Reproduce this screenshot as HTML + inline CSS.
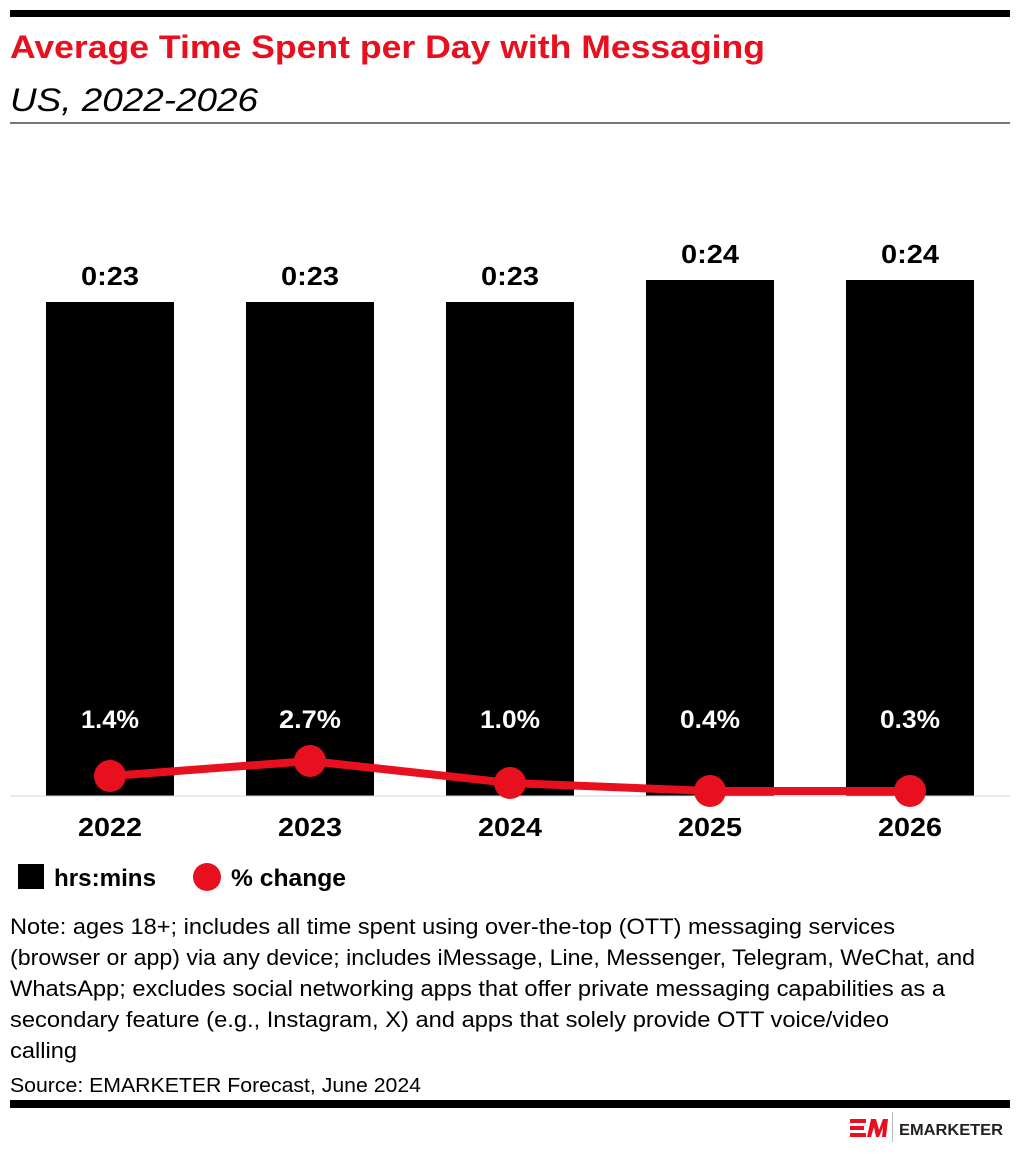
<!DOCTYPE html>
<html><head><style>
body{margin:0;background:#fff;width:1020px;height:1150px;overflow:hidden;font-family:"Liberation Sans",sans-serif;}
</style></head><body>
<svg width="1020" height="1150" xmlns="http://www.w3.org/2000/svg" font-family="Liberation Sans, sans-serif">
<rect x="10" y="10" width="1000" height="7" fill="#000"/>
<text x="10" y="58" font-size="32" font-weight="bold" fill="#e8101e" textLength="755" lengthAdjust="spacingAndGlyphs">Average Time Spent per Day with Messaging</text>
<text x="10" y="111" font-size="32" font-style="italic" fill="#000" textLength="248" lengthAdjust="spacingAndGlyphs">US, 2022-2026</text>
<rect x="10" y="122" width="1000" height="2" fill="#777"/>
<g fill="#000">
<rect x="46" y="302" width="128" height="494"/>
<rect x="246" y="302" width="128" height="494"/>
<rect x="446" y="302" width="128" height="494"/>
<rect x="646" y="280" width="128" height="516"/>
<rect x="846" y="280" width="128" height="516"/>
</g>
<line x1="10" y1="796" x2="1010" y2="796" stroke="#ccd6e0" stroke-width="1"/>
<g font-size="26" font-weight="bold" text-anchor="middle" fill="#000">
<text x="110" y="285" textLength="58" lengthAdjust="spacingAndGlyphs">0:23</text><text x="310" y="285" textLength="58" lengthAdjust="spacingAndGlyphs">0:23</text><text x="510" y="285" textLength="58" lengthAdjust="spacingAndGlyphs">0:23</text>
<text x="710" y="263" textLength="58" lengthAdjust="spacingAndGlyphs">0:24</text><text x="910" y="263" textLength="58" lengthAdjust="spacingAndGlyphs">0:24</text>
<text x="110" y="836" textLength="64" lengthAdjust="spacingAndGlyphs">2022</text><text x="310" y="836" textLength="64" lengthAdjust="spacingAndGlyphs">2023</text><text x="510" y="836" textLength="64" lengthAdjust="spacingAndGlyphs">2024</text><text x="710" y="836" textLength="64" lengthAdjust="spacingAndGlyphs">2025</text><text x="910" y="836" textLength="64" lengthAdjust="spacingAndGlyphs">2026</text>
</g>
<g font-size="25" font-weight="bold" text-anchor="middle" fill="#fff">
<text x="110" y="728" textLength="58" lengthAdjust="spacingAndGlyphs">1.4%</text><text x="310" y="728" textLength="62" lengthAdjust="spacingAndGlyphs">2.7%</text><text x="510" y="728" textLength="60" lengthAdjust="spacingAndGlyphs">1.0%</text><text x="710" y="728" textLength="60" lengthAdjust="spacingAndGlyphs">0.4%</text><text x="910" y="728" textLength="60" lengthAdjust="spacingAndGlyphs">0.3%</text>
</g>
<polyline points="110,776 310,761 510,783 710,791 910,791" fill="none" stroke="#e8101e" stroke-width="8" stroke-linejoin="round"/>
<g fill="#e8101e">
<circle cx="110" cy="776" r="16"/><circle cx="310" cy="761" r="16"/><circle cx="510" cy="783" r="16"/><circle cx="710" cy="791" r="16"/><circle cx="910" cy="791" r="16"/>
</g>
<rect x="18" y="864" width="26" height="25" fill="#000"/>
<text x="54" y="886" font-size="24" font-weight="bold" textLength="102" lengthAdjust="spacingAndGlyphs">hrs:mins</text>
<circle cx="207" cy="877" r="14" fill="#e8101e"/>
<text x="231" y="886" font-size="24" font-weight="bold" textLength="115" lengthAdjust="spacingAndGlyphs">% change</text>
<g font-size="22" fill="#000">
<text x="10" y="934" textLength="885" lengthAdjust="spacingAndGlyphs">Note: ages 18+; includes all time spent using over-the-top (OTT) messaging services</text>
<text x="10" y="965" textLength="965" lengthAdjust="spacingAndGlyphs">(browser or app) via any device; includes iMessage, Line, Messenger, Telegram, WeChat, and</text>
<text x="10" y="996" textLength="935" lengthAdjust="spacingAndGlyphs">WhatsApp; excludes social networking apps that offer private messaging capabilities as a</text>
<text x="10" y="1027" textLength="879" lengthAdjust="spacingAndGlyphs">secondary feature (e.g., Instagram, X) and apps that solely provide OTT voice/video</text>
<text x="10" y="1058" textLength="67" lengthAdjust="spacingAndGlyphs">calling</text>
<text x="10" y="1092" font-size="20" textLength="411" lengthAdjust="spacingAndGlyphs">Source: EMARKETER Forecast, June 2024</text>
</g>
<rect x="10" y="1100" width="1000" height="8" fill="#000"/>
<g fill="#e8101e">
<rect x="850" y="1119" width="16" height="4"/><rect x="850" y="1126" width="14" height="4"/><rect x="850" y="1133" width="16" height="4"/>
<polygon points="867,1137 871,1119 876,1119 879,1130 883,1119 888,1119 886,1137 882,1137 883,1127 879,1137 876,1137 874,1127 871,1137"/>
</g>
<rect x="892" y="1112" width="1" height="30" fill="#bbb"/>
<text x="899" y="1135" font-size="16" font-weight="bold" fill="#222" textLength="104" lengthAdjust="spacingAndGlyphs">EMARKETER</text>
</svg>
</body></html>
